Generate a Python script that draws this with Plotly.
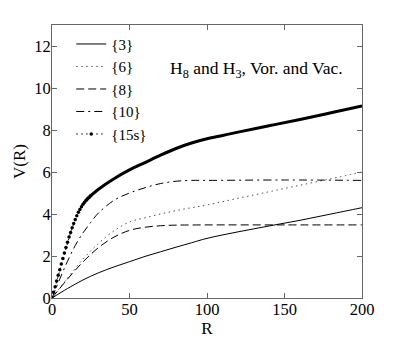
import plotly.graph_objects as go

# {3}
r3 = [0, 10, 20, 30, 40, 50, 60, 70, 80, 90, 100, 120, 140, 160, 180, 200]
v3 = [0, 0.45, 0.86, 1.2, 1.48, 1.73, 1.98, 2.2, 2.42, 2.63, 2.84, 3.15, 3.43, 3.7, 4.0, 4.3]

# {6}
r6 = [0, 10, 20, 30, 40, 50, 60, 70, 80, 90, 100, 120, 140, 160, 180, 200]
v6 = [0, 0.95, 1.85, 2.6, 3.2, 3.62, 3.82, 4.0, 4.16, 4.3, 4.43, 4.75, 5.06, 5.37, 5.68, 6.0]

# {8}
r8 = [0, 10, 20, 30, 40, 50, 60, 70, 80, 100, 150, 200]
v8 = [0, 0.9, 1.72, 2.4, 2.9, 3.22, 3.37, 3.44, 3.47, 3.48, 3.48, 3.48]

# {10}
r10 = [0, 5, 10, 15, 20, 25, 30, 40, 50, 60, 70, 80, 90, 100, 150, 200]
v10 = [0, 0.9, 1.75, 2.5, 3.1, 3.6, 4.05, 4.65, 5.0, 5.25, 5.45, 5.56, 5.6, 5.6, 5.62, 5.6]

# {15s}: sparse dots at start, dense (thick) afterwards
r15_dots = list(range(0, 26))
v15_dots = [0, 0.27, 0.54, 0.81, 1.08, 1.35, 1.62, 1.88, 2.14, 2.4, 2.65, 2.9, 3.12,
            3.34, 3.55, 3.74, 3.92, 4.08, 4.22, 4.35, 4.46, 4.56, 4.65, 4.73, 4.8, 4.87]
r15_thick = [22, 25, 30, 40, 50, 60, 70, 80, 90, 100, 110, 120, 140, 160, 180, 200]
v15_thick = [4.65, 4.87, 5.18, 5.68, 6.1, 6.45, 6.8, 7.12, 7.38, 7.58, 7.74, 7.9, 8.2, 8.5, 8.82, 9.15]

FONT = "Liberation Serif"

fig = go.Figure()
fig.add_trace(go.Scatter(x=r3, y=v3, mode="lines", name="{3}",
                         line=dict(color="black", width=1, shape="spline")))
fig.add_trace(go.Scatter(x=r6, y=v6, mode="lines", name="{6}",
                         line=dict(color="#555", width=1, dash="1.5px,3.5px", shape="spline")))
fig.add_trace(go.Scatter(x=r8, y=v8, mode="lines", name="{8}",
                         line=dict(color="black", width=1, dash="8px,4px", shape="spline")))
fig.add_trace(go.Scatter(x=r10, y=v10, mode="lines", name="{10}",
                         line=dict(color="black", width=1, dash="8px,4px,2px,4px", shape="spline")))
fig.add_trace(go.Scatter(x=r15_dots, y=v15_dots, mode="lines+markers", name="{15s}",
                         line=dict(color="black", width=1, dash="1.5px,3.5px"),
                         marker=dict(color="black", size=3.5)))
fig.add_trace(go.Scatter(x=r15_thick, y=v15_thick, mode="lines", showlegend=False,
                         line=dict(color="black", width=3, shape="spline")))

axis_style = dict(showgrid=False, zeroline=False, showline=True, linecolor="#666",
                  linewidth=1, mirror="ticks", ticks="inside", ticklen=5, automargin=False,
                  tickcolor="#666", tickfont=dict(family=FONT, size=16.5, color="black"))

fig.update_xaxes(range=[0, 200], tickvals=[0, 50, 100, 150, 200], ticklabelstandoff=-4,
                 title=dict(text="R", font=dict(family=FONT, size=17, color="black"), standoff=0),
                 **axis_style)
fig.update_yaxes(range=[0, 13], tickvals=[0, 2, 4, 6, 8, 10, 12], ticklabelstandoff=-3,
                 title=dict(text="V(R)", font=dict(family=FONT, size=17, color="black"), standoff=4),
                 **axis_style)

fig.add_annotation(x=0.66, y=0.885, xref="paper", yref="paper", showarrow=False,
                   text="H<sub>8</sub> and H<sub>3</sub>, Vor. and Vac.",
                   font=dict(family=FONT, size=17.5, color="black"))

fig.update_layout(
    width=399, height=338,
    margin=dict(l=52, r=37, t=25, b=40),
    plot_bgcolor="white", paper_bgcolor="white",
    font=dict(family=FONT, color="black"),
    legend=dict(x=0.062, y=0.99, xanchor="left", yanchor="top",
                bgcolor="rgba(0,0,0,0)", font=dict(family=FONT, size=15),
                tracegroupgap=0),
)

# drop the page's default body margin so the figure sits at the window corner
fig.write_html("out.html", config={"displayModeBar": False},
               post_script="document.body.style.margin='0';")
